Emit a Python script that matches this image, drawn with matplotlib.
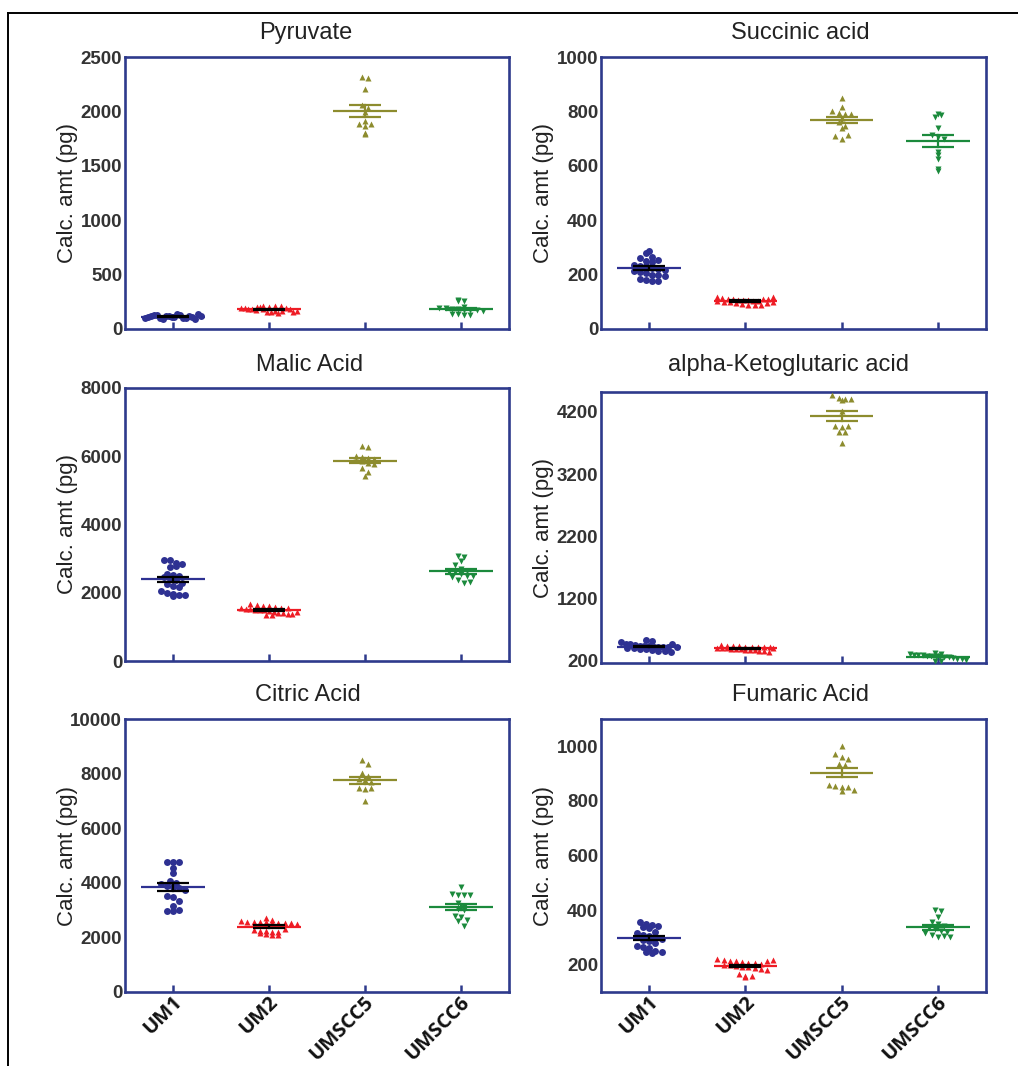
import numpy as np
import matplotlib
matplotlib.use("Agg")
import matplotlib.pyplot as plt
from matplotlib.lines import Line2D
from matplotlib.transforms import ScaledTranslation

# ---------------- data ----------------
groups = ["UM1", "UM2", "UMSCC5", "UMSCC6"]
ylabel = "Calc. amt (pg)"

pyr_um1 = [105, 110, 120, 130, 125, 100, 95, 115, 118, 112, 108, 135, 128, 98, 102, 122, 110, 90, 140, 115]
pyr_um2 = [200, 210, 195, 190, 205, 185, 180, 175, 215, 198, 188, 160, 155, 165, 150, 170, 192, 208, 182, 158, 168]
pyr_um5 = [2320, 2310, 2210, 2060, 2030, 1990, 1910, 1880, 1870, 1880, 1800, 1790]
pyr_um6 = [265, 260, 255, 200, 195, 190, 185, 180, 178, 175, 172, 170, 140, 135, 130, 128]

suc_um1 = [285, 280, 265, 262, 250, 248, 252, 235, 232, 230, 225, 220, 218, 215, 210, 205, 200, 198, 195, 185, 180, 175, 178]
suc_um2 = [118, 115, 112, 110, 108, 106, 105, 104, 103, 102, 101, 100, 112, 109, 95, 92, 90, 88, 87, 96, 98, 116]
suc_um5 = [848, 815, 800, 795, 790, 790, 775, 760, 745, 740, 710, 700, 715]
suc_um6 = [790, 780, 785, 740, 715, 705, 700, 650, 640, 625, 580, 590]

mal_um1 = [2950, 2950, 2860, 2850, 2760, 2780, 2550, 2520, 2500, 2450, 2400, 2380, 2300, 2250, 2200, 2180, 2050, 2000, 1950, 1920, 1900, 1930]
mal_um2 = [1680, 1650, 1620, 1600, 1580, 1560, 1550, 1540, 1520, 1510, 1500, 1490, 1480, 1460, 1440, 1420, 1400, 1380, 1370, 1360, 1350, 1430]
mal_um5 = [6300, 6280, 6000, 5980, 5950, 5920, 5880, 5850, 5800, 5780, 5650, 5550, 5420]
mal_um6 = [3070, 3060, 2920, 2810, 2700, 2650, 2620, 2600, 2550, 2500, 2480, 2450, 2380, 2300, 2320]

akg_um1 = [530, 510, 490, 470, 460, 450, 440, 440, 430, 425, 420, 415, 410, 400, 395, 390, 380, 370, 360, 350, 340, 460, 420]
akg_um2 = [450, 440, 435, 430, 425, 420, 415, 410, 405, 400, 395, 390, 385, 380, 375, 370, 365, 360, 350, 345, 400, 410]
akg_um5 = [4470, 4430, 4410, 4400, 4390, 4210, 3980, 3960, 3970, 3880, 3870, 3700]
akg_um6 = [320, 310, 300, 295, 290, 285, 280, 275, 270, 265, 260, 250, 240, 230, 220, 210, 200, 190]

cit_um1 = [4780, 4780, 4780, 4530, 4350, 4050, 4000, 3950, 3900, 3850, 3800, 3750, 3500, 3480, 3350, 3150, 2980, 2980, 2990]
cit_um2 = [2700, 2620, 2600, 2580, 2570, 2560, 2550, 2540, 2530, 2520, 2510, 2500, 2280, 2250, 2230, 2200, 2180, 2150, 2120, 2100, 2090, 2300]
cit_um5 = [8480, 8350, 8010, 7900, 7800, 7750, 7700, 7480, 7450, 7470, 7000]
cit_um6 = [3850, 3600, 3560, 3550, 3540, 3250, 3100, 3050, 3000, 2770, 2750, 2620, 2600, 2420]

fum_um1 = [355, 350, 345, 340, 338, 335, 320, 315, 310, 305, 300, 295, 290, 285, 280, 270, 265, 260, 250, 248, 245, 242]
fum_um2 = [220, 218, 215, 212, 210, 208, 205, 203, 200, 198, 195, 192, 190, 188, 185, 180, 165, 160, 158, 155, 213, 216]
fum_um5 = [1000, 970, 960, 955, 935, 930, 860, 855, 850, 850, 835, 840]
fum_um6 = [400, 395, 375, 355, 350, 340, 335, 330, 325, 320, 315, 310, 300, 305, 302]

panels = [
    ("Pyruvate", [pyr_um1, pyr_um2, pyr_um5, pyr_um6], (0, 2500), [0, 500, 1000, 1500, 2000, 2500]),
    ("Succinic acid", [suc_um1, suc_um2, suc_um5, suc_um6], (0, 1000), [0, 200, 400, 600, 800, 1000]),
    ("Malic Acid", [mal_um1, mal_um2, mal_um5, mal_um6], (0, 8000), [0, 2000, 4000, 6000, 8000]),
    ("alpha-Ketoglutaric acid", [akg_um1, akg_um2, akg_um5, akg_um6], (160, 4520), [200, 1200, 2200, 3200, 4200]),
    ("Citric Acid", [cit_um1, cit_um2, cit_um5, cit_um6], (0, 10000), [0, 2000, 4000, 6000, 8000, 10000]),
    ("Fumaric Acid", [fum_um1, fum_um2, fum_um5, fum_um6], (100, 1100), [200, 400, 600, 800, 1000]),
]

# ---------------- style ----------------
colors = ["#2E3192", "#EE1C25", "#8D8C2E", "#1B8A3C"]
err_colors = ["#000000", "#000000", "#8D8C2E", "#1B8A3C"]
markers = ["o", "^", "^", "v"]
msizes = [5.0, 5.0, 5.0, 5.0]
spine_col = "#2E3A8C"
txt_col = "#333333"

W, H = 1018, 1066
DPI = 100
fig = plt.figure(figsize=(W / DPI, H / DPI), dpi=DPI)

# axes boxes in pixels: (left, top, right, bottom)
boxes = [
    (125, 57, 509, 329), (601, 57, 986, 329),
    (125, 388, 509, 661), (601, 392, 986, 663),
    (125, 719, 509, 992), (601, 719, 986, 992),
]
title_pos = [(306, 33), (800, 33), (310, 365), (788, 365), (308, 695), (801, 695)]
ylab_x = [67, 543]

def swarm(vals, ppu_x, ppu_y, ymin, step_px=6.2, max_span_px=56):
    vals = np.asarray(vals, float)
    binsize = step_px / ppu_y
    keys = np.round((vals - ymin) / binsize).astype(int)
    offs = np.zeros(len(vals))
    for k in np.unique(keys):
        idx = np.where(keys == k)[0]  # keep data order within a row
        n = len(idx)
        step = step_px
        if n > 1 and (n - 1) * step > max_span_px:
            step = max_span_px / (n - 1)
        offs[idx] = (np.arange(n) - (n - 1) / 2) * step / ppu_x
    return offs

for i, (title, data, ylim, yticks) in enumerate(panels):
    l, t, r, b = boxes[i]
    ax = fig.add_axes([l / W, 1 - b / H, (r - l) / W, (b - t) / H])
    xlim = (-0.5, 3.5)
    ax.set_xlim(*xlim)
    ax.set_ylim(*ylim)
    ppu_x = (r - l) / (xlim[1] - xlim[0])
    ppu_y = (b - t) / (ylim[1] - ylim[0])
    for g, vals in enumerate(data):
        vals = np.asarray(vals, float)
        offs = swarm(vals, ppu_x, ppu_y, ylim[0])
        ax.plot(g + offs, vals, linestyle="none", marker=markers[g], ms=msizes[g],
                color=colors[g], mec="none", zorder=3)
        m = vals.mean()
        sem = vals.std(ddof=1) / np.sqrt(len(vals))
        ax.plot([g - 0.33, g + 0.33], [m, m], color=colors[g], lw=1.6, zorder=4, solid_capstyle="butt")
        ax.plot([g - 0.165, g + 0.165], [m + sem, m + sem], color=err_colors[g], lw=1.6, zorder=5, solid_capstyle="butt")
        ax.plot([g - 0.165, g + 0.165], [m - sem, m - sem], color=err_colors[g], lw=1.6, zorder=5, solid_capstyle="butt")
        ax.plot([g, g], [m - sem, m + sem], color=err_colors[g], lw=1.6, zorder=5)
    for s in ax.spines.values():
        s.set_color(spine_col)
        s.set_linewidth(1.9)
    ax.set_yticks(yticks)
    ax.set_yticklabels([str(v) for v in yticks], fontsize=13.5, fontweight="bold",
                       color=txt_col, family="Liberation Sans")
    ax.tick_params(axis="y", length=0, pad=2)
    ax.set_xticks(range(4))
    ax.set_xticklabels([])
    ax.tick_params(axis="x", direction="in", length=5, width=1.8, color=spine_col)
    if i >= 4:
        for g, name in enumerate(groups):
            tr = ax.get_xaxis_transform() + ScaledTranslation(-1 / DPI, 0 / DPI, fig.dpi_scale_trans)
            ax.text(g, 0, name, transform=tr, rotation=45, rotation_mode="anchor",
                    ha="right", va="top", fontsize=14.5, fontweight="bold",
                    color="#111111", family="Open Sans")
    tx, ty = title_pos[i]
    fig.text(tx / W, 1 - ty / H, title, ha="center", va="center", fontsize=17,
             color="#222222", family="Liberation Sans")
    fig.text(ylab_x[i % 2] / W, 1 - ((t + b) / 2) / H, ylabel, rotation=90,
             ha="center", va="center", fontsize=16, color="#222222", family="Liberation Sans")

# outer frame lines (partially cropped)
fig.add_artist(Line2D([8 / W, 1], [1 - 13 / H, 1 - 13 / H], color="black", lw=1.4, transform=fig.transFigure))
fig.add_artist(Line2D([8 / W, 8 / W], [0, 1 - 13 / H], color="black", lw=1.4, transform=fig.transFigure))

fig.savefig("out.png", dpi=DPI)
